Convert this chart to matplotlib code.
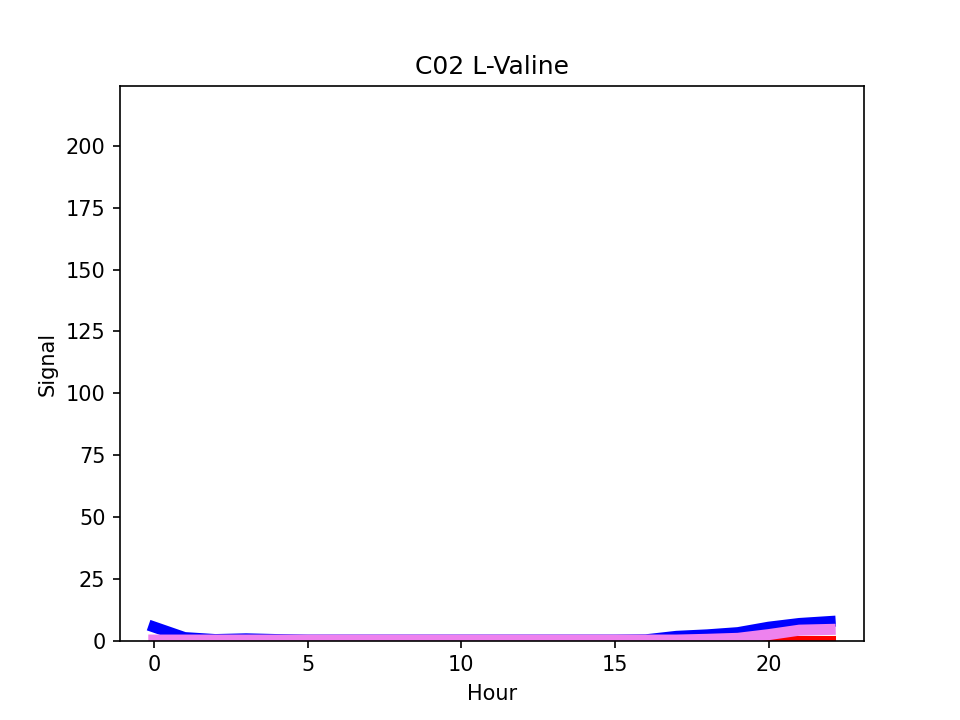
"""
C02 L-Valine signal traces over time (three thick lines).
"""
import matplotlib
matplotlib.use("Agg")
import matplotlib.pyplot as plt

# hourly readings
hours = list(range(23))
blue_signal = [5.6, 1.3, 0.5, 0.8, 0.5, 0.3, 0.3, 0.3, 0.3, 0.3, 0.3, 0.3,
               0.3, 0.3, 0.3, 0.3, 0.4, 1.8, 2.4, 3.3, 5.5, 7.0, 7.8]
red_signal = [0.0] * 23
violet_signal = [0.3, 0.3, 0.3, 0.3, 0.3, 0.3, 0.3, 0.3, 0.3, 0.3, 0.3, 0.3,
                 0.3, 0.3, 0.3, 0.3, 0.3, 0.3, 0.6, 1.0, 2.5, 4.3, 4.6]

TITLE = "C02 L-Valine"
YMAX = 224


def main():
    fig, ax = plt.subplots(figsize=(6.4, 4.8), dpi=150)
    ax.plot(hours, blue_signal, color="blue", lw=5.3)
    ax.plot(hours, red_signal, color="red", lw=5.3)
    ax.plot(hours, violet_signal, color="violet", lw=5.3)
    ax.set_ylim(0, YMAX)
    ax.set_xlabel("Hour")
    ax.set_ylabel("Signal")
    ax.set_title(TITLE)
    fig.savefig("out.png", dpi=150)
    plt.close(fig)


if __name__ == "__main__":
    main()
